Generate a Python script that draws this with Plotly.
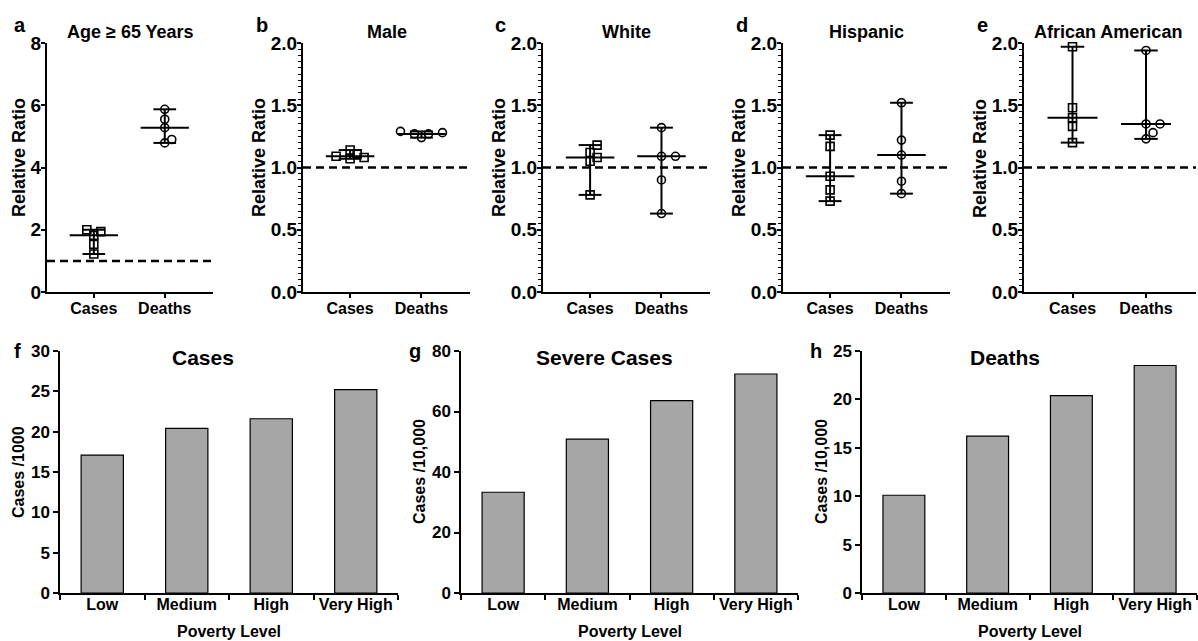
import numpy as np
import plotly.graph_objects as go

# ---------------- data ----------------
groups = ["Cases", "Deaths"]

age_cases = [2.00, 1.94, 1.82, 1.53, 1.22]
age_deaths = [5.87, 5.55, 5.28, 4.79, 4.90]
male_cases = [1.14, 1.07, 1.11, 1.08, 1.09]
male_deaths = [1.29, 1.24, 1.28, 1.27, 1.27]
white_cases = [1.18, 1.08, 1.12, 1.05, 0.78]
white_deaths = [1.32, 1.09, 1.09, 0.90, 0.63]
hisp_cases = [1.26, 1.17, 0.93, 0.82, 0.73]
hisp_deaths = [1.52, 1.22, 1.10, 0.89, 0.79]
afam_cases = [1.97, 1.48, 1.40, 1.33, 1.20]
afam_deaths = [1.94, 1.35, 1.35, 1.28, 1.23]

top_titles = ["Age \u2265 65 Years", "Male", "White", "Hispanic", "African American"]
top_letters = ["a", "b", "c", "d", "e"]
top_ymax = [8, 2.0, 2.0, 2.0, 2.0]
reference_ratio = 1.0

poverty = ["Low", "Medium", "High", "Very High"]
cases_per_1000 = [17.1, 20.4, 21.6, 25.2]
severe_per_10000 = [33.3, 50.9, 63.6, 72.4]
deaths_per_10000 = [10.1, 16.2, 20.4, 23.5]

bottom_titles = ["Cases", "Severe Cases", "Deaths"]
bottom_letters = ["f", "g", "h"]
bottom_ylabels = ["Cases /1000", "Cases /10,000", "Cases /10,000"]
bottom_ymax = [30, 80, 25]
bottom_dtick = [5, 20, 5]

# ---------------- layout geometry ----------------
W, H = 1198, 641
FONT = "Liberation Sans, Arial, sans-serif"

top_px = [(47, 213), (303, 470), (543, 710), (783, 950), (1024, 1196)]
top_y_px = (43, 292)
bot_px = [(60, 398), (461, 798), (862, 1197)]
bot_y_px = (351, 593)
XR = [-0.66, 1.68]


def px2x(p):
    return p / W


def px2y(p):
    return 1 - p / H


fig = go.Figure()
layout = dict(width=W, height=H, margin=dict(l=0, r=0, t=0, b=0),
              plot_bgcolor="white", paper_bgcolor="white",
              showlegend=False, font=dict(family=FONT, color="black", weight="bold"))
annotations = []
shapes = []


def swarm_offsets(vals, px_per_y, px_per_x, d=7.5, step=7.0):
    order = np.argsort(vals)
    placed = []
    offs = np.zeros(len(vals))
    for i in order:
        py = vals[i] * px_per_y
        cands = [0]
        for k in range(1, 6):
            cands += [k * step, -k * step]
        for c in cands:
            ok = all((c - ox) ** 2 + (py - oy) ** 2 >= d * d for ox, oy in placed)
            if ok:
                offs[i] = c / px_per_x
                placed.append((c, py))
                break
    return offs


top_data = [(age_cases, age_deaths), (male_cases, male_deaths), (white_cases, white_deaths),
            (hisp_cases, hisp_deaths), (afam_cases, afam_deaths)]

for k, (x0, x1) in enumerate(top_px):
    ax = k + 1
    xa = "xaxis" if ax == 1 else f"xaxis{ax}"
    ya = "yaxis" if ax == 1 else f"yaxis{ax}"
    xr = "x" if ax == 1 else f"x{ax}"
    yr = "y" if ax == 1 else f"y{ax}"
    ymax = top_ymax[k]
    px_per_y = (top_y_px[1] - top_y_px[0]) / ymax
    px_per_x = (x1 - x0) / (XR[1] - XR[0])
    for g, vals in enumerate(top_data[k]):
        v = np.array(vals, dtype=float)
        med, lo, hi = np.median(v), v.min(), v.max()
        fig.add_trace(go.Scatter(x=[g - 0.34, g + 0.34], y=[med, med], mode="lines",
                                 line=dict(color="black", width=2), xaxis=xr, yaxis=yr,
                                 hoverinfo="skip", cliponaxis=False))
        for yy in (lo, hi):
            fig.add_trace(go.Scatter(x=[g - 0.16, g + 0.16], y=[yy, yy], mode="lines",
                                     line=dict(color="black", width=2), xaxis=xr, yaxis=yr,
                                     hoverinfo="skip", cliponaxis=False))
        fig.add_trace(go.Scatter(x=[g, g], y=[lo, hi], mode="lines",
                                 line=dict(color="black", width=2), xaxis=xr, yaxis=yr,
                                 hoverinfo="skip", cliponaxis=False))
        offs = swarm_offsets(v, px_per_y, px_per_x)
        fig.add_trace(go.Scatter(x=g + offs, y=v, mode="markers",
                                 marker=dict(symbol="square-open" if g == 0 else "circle-open",
                                             size=8, color="black", line=dict(width=1.6)),
                                 xaxis=xr, yaxis=yr, cliponaxis=False))
    yax = dict(domain=[px2y(top_y_px[1]), px2y(top_y_px[0])], anchor=xr, range=[0, ymax],
               showline=True, linecolor="black", linewidth=2, ticks="outside", ticklen=4,
               tickwidth=2, tickcolor="black", showgrid=False, zeroline=False,
               ticklabelstandoff=-4,
               tickfont=dict(size=19, family=FONT, weight="bold"), automargin=False)
    if ymax == 8:
        yax.update(dtick=2, tickformat="d")
    else:
        yax.update(dtick=0.5, tickformat=".1f",
                   minor=dict(dtick=0.05, ticks="outside", ticklen=3, tickwidth=1,
                              tickcolor="black", showgrid=False))
    layout[ya] = yax
    layout[xa] = dict(domain=[px2x(x0), px2x(x1)], anchor=yr, range=XR,
                      showline=True, linecolor="black", linewidth=2, ticks="outside",
                      ticklen=4, tickwidth=2, tickcolor="black", showgrid=False, zeroline=False,
                      tickvals=[0, 1], ticktext=groups, ticklabelstandoff=-3,
                      tickfont=dict(size=16, family=FONT, weight="bold"), automargin=False)
    shapes.append(dict(type="line", xref=f"{xr} domain", yref=yr, x0=0, x1=1,
                       y0=reference_ratio, y1=reference_ratio,
                       line=dict(color="black", width=2.5, dash="8px,5px")))
    cx = (x0 + x1) / 2 if k < 4 else 1108
    annotations.append(dict(text=top_titles[k], x=px2x(cx), y=px2y(32), xref="paper", yref="paper",
                            showarrow=False, xanchor="center", yanchor="middle",
                            font=dict(size=18, family=FONT, weight="bold")))
    lx = [20, 262, 500, 742, 982][k]
    annotations.append(dict(text=top_letters[k], x=px2x(lx), y=px2y(25), xref="paper", yref="paper",
                            showarrow=False, xanchor="center", yanchor="middle",
                            font=dict(size=20, family=FONT, weight="bold")))
    tx = x0 - (28 if k == 0 else 44)
    annotations.append(dict(text="Relative Ratio", x=px2x(tx), y=px2y(158), xref="paper", yref="paper",
                            showarrow=False, xanchor="center", yanchor="middle", textangle=-90,
                            font=dict(size=18, family=FONT, weight="bold")))

bottom_data = [cases_per_1000, severe_per_10000, deaths_per_10000]
bot_title_x = [203, 604, 1005]
bot_letter_x = [17, 415, 816]
bot_ylab_x = [18, 419, 821]

for k, (x0, x1) in enumerate(bot_px):
    ax = k + 6
    xa, ya, xr, yr = f"xaxis{ax}", f"yaxis{ax}", f"x{ax}", f"y{ax}"
    fig.add_trace(go.Bar(x=poverty, y=bottom_data[k], xaxis=xr, yaxis=yr,
                         marker=dict(color="#a6a6a6", line=dict(color="black", width=1.2))))
    layout[ya] = dict(domain=[px2y(bot_y_px[1]), px2y(bot_y_px[0])], anchor=xr,
                      range=[0, bottom_ymax[k]], dtick=bottom_dtick[k],
                      showline=True, linecolor="black", linewidth=1.5, ticks="outside", ticklen=5,
                      tickwidth=1.5, tickcolor="black", showgrid=False, zeroline=False,
                      tickfont=dict(size=17, family=FONT, weight="bold"), automargin=False)
    layout[xa] = dict(domain=[px2x(x0), px2x(x1)], anchor=yr, type="category",
                      showline=True, linecolor="black", linewidth=1.5, ticks="outside",
                      tickson="boundaries", ticklen=5, tickwidth=1.5, tickcolor="black",
                      showgrid=False, zeroline=False, ticklabelstandoff=-4,
                      tickfont=dict(size=16, family=FONT, weight="bold"), automargin=False)
    annotations.append(dict(text=bottom_titles[k], x=px2x(bot_title_x[k]), y=px2y(357),
                            xref="paper", yref="paper", showarrow=False, xanchor="center",
                            yanchor="middle", font=dict(size=21, family=FONT, weight="bold")))
    annotations.append(dict(text=bottom_letters[k], x=px2x(bot_letter_x[k]), y=px2y(351),
                            xref="paper", yref="paper", showarrow=False, xanchor="center",
                            yanchor="middle", font=dict(size=20, family=FONT, weight="bold")))
    annotations.append(dict(text=bottom_ylabels[k], x=px2x(bot_ylab_x[k]), y=px2y(472),
                            xref="paper", yref="paper", showarrow=False, xanchor="center",
                            yanchor="middle", textangle=-90,
                            font=dict(size=16, family=FONT, weight="bold")))
    annotations.append(dict(text="Poverty Level", x=px2x((x0 + x1) / 2), y=px2y(631),
                            xref="paper", yref="paper", showarrow=False, xanchor="center",
                            yanchor="middle", font=dict(size=16, family=FONT, weight="bold")))

layout["bargap"] = 0.5
layout["annotations"] = annotations
layout["shapes"] = shapes
fig.update_layout(**layout)
fig.write_html("out.html", config={"displayModeBar": False},
               post_script="document.body.style.margin='0px';document.body.style.overflow='hidden';")
